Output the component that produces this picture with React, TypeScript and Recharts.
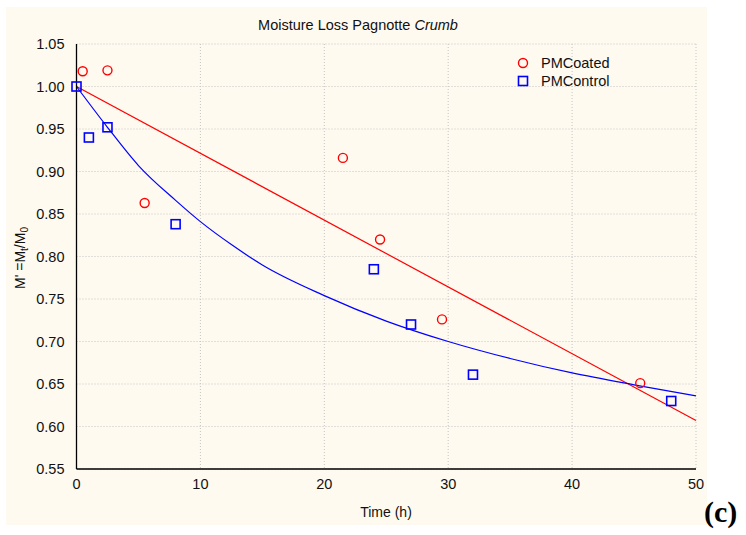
import {
  ComposedChart,
  Scatter,
  Line,
  XAxis,
  YAxis,
  CartesianGrid,
} from "recharts";

// measured points
const coatedTime = [0.5, 2.5, 5.5, 21.5, 24.5, 29.5, 45.5];
const coatedMoisture = [1.018, 1.019, 0.863, 0.916, 0.82, 0.726, 0.651];

const controlTime = [0, 1, 2.5, 8, 24, 27, 32, 48];
const controlMoisture = [1.0, 0.94, 0.952, 0.838, 0.785, 0.72, 0.661, 0.63];

// fitted curves
const coatedFitTime = [0, 50];
const coatedFitMoisture = [1.0, 0.607];

const controlFitTime = [0, 2.5, 5, 8, 10, 12.5, 15, 20, 25, 30, 35, 40, 45, 50];
const controlFitMoisture = [
  1.0, 0.952, 0.907, 0.866, 0.841, 0.814, 0.79, 0.754, 0.724, 0.7, 0.68,
  0.663, 0.649, 0.636,
];

const xTicks = [0, 10, 20, 30, 40, 50];
const yTicks = [0.55, 0.6, 0.65, 0.7, 0.75, 0.8, 0.85, 0.9, 0.95, 1.0, 1.05];

const zip = (t: number[], m: number[]) => t.map((v, i) => ({ t: v, m: m[i] }));

const coated = zip(coatedTime, coatedMoisture);
const control = zip(controlTime, controlMoisture);
const coatedFit = zip(coatedFitTime, coatedFitMoisture);
const controlFit = zip(controlFitTime, controlFitMoisture);

const RED = "#ff0000";
const BLUE = "#0000ff";
const FONT = "'Liberation Sans', Arial, sans-serif";

const CircleMark = (props: any) => (
  <circle cx={props.cx} cy={props.cy} r={4.5} fill="none" stroke={RED} strokeWidth={1.4} />
);

const SquareMark = (props: any) => (
  <rect
    x={props.cx - 4.5}
    y={props.cy - 4.5}
    width={9}
    height={9}
    fill="none"
    stroke={BLUE}
    strokeWidth={1.6}
  />
);

const LegendBox = () => (
  <div
    style={{
      position: "absolute",
      left: 511,
      top: 47,
      fontFamily: FONT,
      fontSize: 14.5,
      color: "#111",
      lineHeight: "18px",
    }}
  >
    <div style={{ display: "flex", alignItems: "center" }}>
      <svg width={24} height={18}>
        <circle cx={6} cy={9} r={4.5} fill="none" stroke={RED} strokeWidth={1.4} />
      </svg>
      <span>PMCoated</span>
    </div>
    <div style={{ display: "flex", alignItems: "center" }}>
      <svg width={24} height={18}>
        <rect x={1.5} y={4.5} width={9} height={9} fill="none" stroke={BLUE} strokeWidth={1.6} />
      </svg>
      <span>PMControl</span>
    </div>
  </div>
);

const YLabel = () => (
  <text
    x={15}
    y={251}
    transform="rotate(-90 15 251)"
    textAnchor="middle"
    dominantBaseline="middle"
    fontFamily={FONT}
    fontSize={14}
    fill="#111"
  >
    M' =M
    <tspan fontSize={10} dy={4}>t</tspan>
    <tspan dy={-4}>/M</tspan>
    <tspan fontSize={10} dy={4}>0</tspan>
  </text>
);

const blank = () => <g />;

export default function App() {
  return (
    <div style={{ position: "absolute", left: 0, top: 0, width: 746, height: 535, background: "#fff" }}>
      <div
        style={{
          position: "absolute",
          left: 6,
          top: 7,
          width: 701,
          height: 518,
          background: "#fffaf0",
        }}
      >
        <div
          style={{
            position: "absolute",
            left: 0,
            width: 704,
            top: 10,
            textAlign: "center",
            fontFamily: FONT,
            fontSize: 14.5,
            color: "#111",
          }}
        >
          Moisture Loss Pagnotte <i>Crumb</i>
        </div>
        <div
          style={{
            position: "absolute",
            left: 0,
            width: 760,
            top: 497,
            textAlign: "center",
            fontFamily: FONT,
            fontSize: 14,
            color: "#111",
          }}
        >
          Time (h)
        </div>
        <ComposedChart
          width={701}
          height={518}
          margin={{ top: 37, right: 11, left: 0, bottom: 0 }}
        >
          <CartesianGrid stroke="#c4c4c4" strokeDasharray="1 2" />
          <XAxis
            dataKey="t"
            type="number"
            domain={[0, 50]}
            ticks={xTicks}
            height={56}
            tickLine={false}
            axisLine={{ stroke: "#000", strokeWidth: 1.3 }}
            tick={{ fontFamily: FONT, fontSize: 14.5, fill: "#111" }}
            tickMargin={4}
          />
          <XAxis
            xAxisId="top"
            orientation="top"
            type="number"
            domain={[0, 50]}
            ticks={xTicks}
            height={0}
            mirror
            tick={blank}
            tickSize={4}
            tickLine={{ stroke: "#000" }}
            axisLine={{ stroke: "#000", strokeWidth: 1.3 }}
          />
          <YAxis
            dataKey="m"
            type="number"
            domain={[0.55, 1.05]}
            ticks={yTicks}
            width={70.5}
            tickLine={false}
            axisLine={{ stroke: "#000", strokeWidth: 1.3 }}
            tick={{ fontFamily: FONT, fontSize: 14.5, fill: "#111" }}
            tickFormatter={(v: number) => v.toFixed(2)}
            tickMargin={6}
            label={<YLabel />}
          />
          <YAxis
            yAxisId="right"
            orientation="right"
            type="number"
            domain={[0.55, 1.05]}
            ticks={yTicks}
            width={0}
            mirror
            tick={blank}
            tickSize={4}
            tickLine={{ stroke: "#000" }}
            axisLine={{ stroke: "#000", strokeWidth: 1.3 }}
          />
          <Line
            data={coatedFit}
            dataKey="m"
            type="linear"
            stroke={RED}
            strokeWidth={1.2}
            dot={false}
            isAnimationActive={false}
          />
          <Line
            data={controlFit}
            dataKey="m"
            type="monotone"
            stroke={BLUE}
            strokeWidth={1.2}
            dot={false}
            isAnimationActive={false}
          />
          <Scatter
            name="PMCoated"
            data={coated}
            dataKey="m"
            shape={CircleMark}
            isAnimationActive={false}
          />
          <Scatter
            name="PMControl"
            data={control}
            dataKey="m"
            shape={SquareMark}
            isAnimationActive={false}
          />
        </ComposedChart>
        <LegendBox />
      </div>
      <div
        style={{
          position: "absolute",
          left: 704,
          top: 494,
          fontFamily: "'Liberation Serif', 'Times New Roman', serif",
          fontWeight: "bold",
          fontSize: 30,
          color: "#000",
          lineHeight: "36px",
        }}
      >
        (c)
      </div>
    </div>
  );
}
